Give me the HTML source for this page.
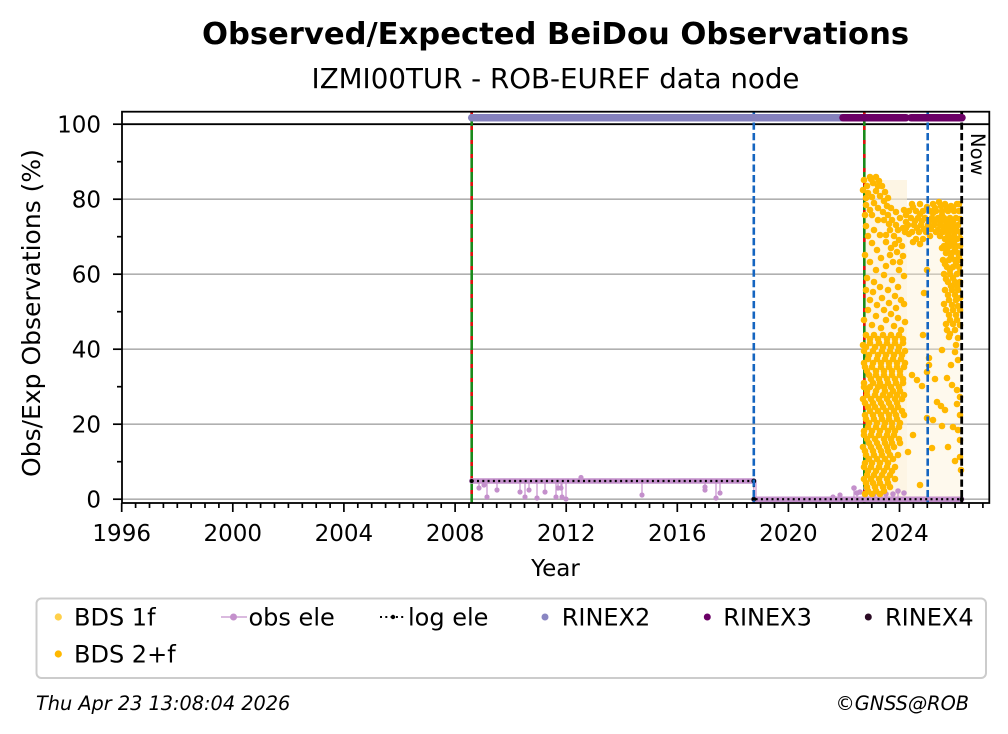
<!DOCTYPE html>
<html><head><meta charset="utf-8"><style>
html,body{margin:0;padding:0;background:#fff;}
svg{display:block;}
text{font-family:"DejaVu Sans","Liberation Sans",sans-serif;fill:#000;}
</style></head><body>
<svg width="1008" height="734" viewBox="0 0 1008 734" xmlns="http://www.w3.org/2000/svg">
<defs><clipPath id="ax"><rect x="122" y="112" width="867.3" height="391"/></clipPath></defs>
<rect width="1008" height="734" fill="#fff"/>
<!-- titles -->
<text x="555.5" y="44" text-anchor="middle" font-size="30.6" font-weight="bold">Observed/Expected BeiDou Observations</text>
<text x="555.5" y="88" text-anchor="middle" font-size="27.7">IZMI00TUR - ROB-EUREF data node</text>

<g clip-path="url(#ax)">
<!-- grid -->
<g stroke="#b0b0b0" stroke-width="1.6">
<line x1="122" x2="989" y1="499.2" y2="499.2"/>
<line x1="122" x2="989" y1="424.2" y2="424.2"/>
<line x1="122" x2="989" y1="349.2" y2="349.2"/>
<line x1="122" x2="989" y1="274.2" y2="274.2"/>
<line x1="122" x2="989" y1="199.2" y2="199.2"/>
</g>
<line x1="122" x2="989" y1="124.2" y2="124.2" stroke="#000" stroke-width="1.8"/>

<!-- yellow stems tint -->
<rect x="864" y="180" width="43" height="319" fill="#fcefd2" opacity="0.6"/>
<rect x="907" y="205" width="55" height="294" fill="#fcefd2" opacity="0.4"/>

<!-- green/red lines -->
<line x1="471.7" x2="471.7" y1="112" y2="503" stroke="#1a8a1a" stroke-width="2.6"/>
<line x1="471.7" x2="471.7" y1="112" y2="503" stroke="#e01010" stroke-width="2.6" stroke-dasharray="4,10"/>
<line x1="864.3" x2="864.3" y1="112" y2="503" stroke="#1a8a1a" stroke-width="2.6"/>
<line x1="864.3" x2="864.3" y1="112" y2="503" stroke="#e01010" stroke-width="2.6" stroke-dasharray="4,10"/>

<!-- obs ele -->
<g stroke="#c490cc" stroke-width="1.2">
<line x1="479" y1="481" x2="479" y2="488"/><line x1="487" y1="481" x2="487" y2="497"/>
<line x1="497" y1="481" x2="497" y2="490"/><line x1="520" y1="481" x2="520" y2="492"/>
<line x1="525" y1="481" x2="525" y2="497"/><line x1="529" y1="481" x2="529" y2="490"/>
<line x1="537" y1="481" x2="537" y2="498"/><line x1="545" y1="481" x2="545" y2="492"/>
<line x1="556" y1="481" x2="556" y2="497"/><line x1="558" y1="481" x2="558" y2="488"/>
<line x1="561" y1="481" x2="561" y2="488"/><line x1="562" y1="481" x2="562" y2="497"/>
<line x1="566" y1="481" x2="566" y2="499"/><line x1="642" y1="481" x2="642" y2="495"/>
<line x1="705" y1="481" x2="705" y2="490"/><line x1="716" y1="481" x2="716" y2="498"/>
<line x1="720" y1="481" x2="720" y2="493"/><line x1="753.8" y1="481" x2="753.8" y2="499.2"/>
<line x1="756" y1="481" x2="756" y2="499.2"/>
<line x1="854" y1="499" x2="854" y2="488"/><line x1="857" y1="499" x2="857" y2="493"/>
<line x1="866" y1="499" x2="866" y2="488"/><line x1="898" y1="499" x2="898" y2="491"/>
</g>
<line x1="471.7" y1="481" x2="753.8" y2="481" stroke="#c490cc" stroke-width="5.5" stroke-linecap="round"/>
<line x1="753.8" y1="499.2" x2="961.7" y2="499.2" stroke="#c490cc" stroke-width="5.5" stroke-linecap="round"/>
<g fill="#c490cc">
<circle cx="479" cy="488" r="2.6"/><circle cx="484" cy="485" r="2.6"/><circle cx="487" cy="497" r="2.6"/>
<circle cx="497" cy="490" r="2.6"/><circle cx="520" cy="492" r="2.6"/><circle cx="525" cy="497" r="2.6"/>
<circle cx="529" cy="490" r="2.6"/><circle cx="537" cy="498" r="2.6"/><circle cx="545" cy="492" r="2.6"/>
<circle cx="556" cy="497" r="2.6"/><circle cx="558" cy="488" r="2.6"/><circle cx="561" cy="488" r="2.6"/>
<circle cx="562" cy="497" r="2.6"/><circle cx="566" cy="499" r="2.6"/><circle cx="581" cy="477.5" r="2.6"/>
<circle cx="642" cy="495" r="2.6"/><circle cx="705" cy="490" r="2.6"/><circle cx="705" cy="487" r="2.6"/>
<circle cx="716" cy="498" r="2.6"/><circle cx="720" cy="493" r="2.6"/>
<circle cx="833" cy="497" r="2.6"/><circle cx="840" cy="495" r="2.6"/>
<circle cx="854" cy="488" r="2.8"/><circle cx="857" cy="493" r="2.8"/><circle cx="860" cy="492" r="2.8"/>
<circle cx="866" cy="488" r="2.8"/><circle cx="868" cy="492" r="2.8"/><circle cx="874" cy="494" r="2.8"/>
<circle cx="880" cy="494" r="2.8"/><circle cx="886" cy="494" r="2.8"/><circle cx="893" cy="494" r="2.8"/>
<circle cx="898" cy="491" r="2.8"/><circle cx="904" cy="493" r="2.8"/>
</g>
<!-- log ele -->
<g stroke="#000" stroke-width="2.2" fill="none" stroke-dasharray="2,3.3">
<path d="M471.7 481 H753.8 V499.2 H961.7"/>
</g>
<circle cx="471.7" cy="481" r="2" fill="#000"/>
<circle cx="753.8" cy="481" r="2.4" fill="#000"/>
<circle cx="753.8" cy="499.2" r="2.4" fill="#000"/>
<circle cx="961.7" cy="499.2" r="2.2" fill="#000"/>

<!-- yellow scatter BDS 2+f -->
<g fill="#ffb800">
<!-- top cluster -->
<circle cx="864" cy="180" r="3.3"/><circle cx="867" cy="186" r="3.3"/><circle cx="870" cy="177" r="3.3"/><circle cx="873" cy="183" r="3.3"/><circle cx="876" cy="177" r="3.3"/><circle cx="879" cy="181" r="3.3"/><circle cx="882" cy="186" r="3.3"/><circle cx="868" cy="193" r="3.3"/><circle cx="872" cy="197" r="3.3"/><circle cx="876" cy="191" r="3.3"/><circle cx="880" cy="196" r="3.3"/><circle cx="884" cy="201" r="3.3"/><circle cx="866" cy="205" r="3.3"/><circle cx="870" cy="210" r="3.3"/><circle cx="865" cy="215" r="3.3"/><circle cx="874" cy="203" r="3.3"/><circle cx="878" cy="208" r="3.3"/><circle cx="883" cy="212" r="3.3"/><circle cx="887" cy="206" r="3.3"/>
<circle cx="863" cy="190" r="3.3"/><circle cx="866" cy="198" r="3.3"/><circle cx="871" cy="179" r="3.3"/><circle cx="878" cy="186" r="3.3"/><circle cx="885" cy="192" r="3.3"/><circle cx="888" cy="198" r="3.3"/><circle cx="872" cy="215" r="3.3"/><circle cx="878" cy="220" r="3.3"/><circle cx="866" cy="226" r="3.3"/><circle cx="874" cy="230" r="3.3"/><circle cx="880" cy="235" r="3.3"/>
<!-- upper A -->
<circle cx="888" cy="215" r="3.3"/><circle cx="892" cy="220" r="3.3"/><circle cx="896" cy="225" r="3.3"/><circle cx="900" cy="218" r="3.3"/><circle cx="903" cy="228" r="3.3"/><circle cx="890" cy="230" r="3.3"/><circle cx="894" cy="236" r="3.3"/><circle cx="899" cy="240" r="3.3"/><circle cx="905" cy="232" r="3.3"/><circle cx="886" cy="242" r="3.3"/><circle cx="891" cy="248" r="3.3"/><circle cx="897" cy="252" r="3.3"/><circle cx="902" cy="246" r="3.3"/><circle cx="868" cy="236" r="3.3"/><circle cx="872" cy="243" r="3.3"/><circle cx="877" cy="250" r="3.3"/><circle cx="865" cy="255" r="3.3"/><circle cx="870" cy="262" r="3.3"/><circle cx="881" cy="258" r="3.3"/><circle cx="886" cy="266" r="3.3"/><circle cx="893" cy="262" r="3.3"/><circle cx="899" cy="270" r="3.3"/><circle cx="904" cy="276" r="3.3"/><circle cx="867" cy="278" r="3.3"/><circle cx="874" cy="282" r="3.3"/><circle cx="880" cy="287" r="3.3"/><circle cx="888" cy="290" r="3.3"/><circle cx="895" cy="296" r="3.3"/><circle cx="901" cy="300" r="3.3"/><circle cx="870" cy="300" r="3.3"/><circle cx="877" cy="305" r="3.3"/><circle cx="884" cy="310" r="3.3"/><circle cx="891" cy="314" r="3.3"/><circle cx="898" cy="318" r="3.3"/><circle cx="905" cy="322" r="3.3"/><circle cx="864" cy="320" r="3.3"/><circle cx="872" cy="325" r="3.3"/><circle cx="881" cy="328" r="3.3"/>
<circle cx="884" cy="220" r="3.3"/><circle cx="889" cy="224" r="3.3"/><circle cx="898" cy="230" r="3.3"/><circle cx="886" cy="235" r="3.3"/><circle cx="895" cy="244" r="3.3"/><circle cx="903" cy="256" r="3.3"/><circle cx="890" cy="255" r="3.3"/><circle cx="900" cy="262" r="3.3"/><circle cx="884" cy="275" r="3.3"/><circle cx="892" cy="280" r="3.3"/><circle cx="898" cy="287" r="3.3"/><circle cx="876" cy="270" r="3.3"/><circle cx="866" cy="290" r="3.3"/><circle cx="873" cy="292" r="3.3"/><circle cx="882" cy="298" r="3.3"/><circle cx="889" cy="303" r="3.3"/><circle cx="896" cy="308" r="3.3"/><circle cx="904" cy="304" r="3.3"/><circle cx="868" cy="310" r="3.3"/><circle cx="876" cy="316" r="3.3"/><circle cx="886" cy="320" r="3.3"/><circle cx="894" cy="326" r="3.3"/><circle cx="901" cy="330" r="3.3"/><circle cx="863" cy="345" r="3.3"/><circle cx="904" cy="210" r="3.3"/><circle cx="906" cy="222" r="3.3"/><circle cx="891" cy="208" r="3.3"/><circle cx="896" cy="212" r="3.3"/>
<!-- lower A dense -->
<circle cx="866" cy="335" r="3.3"/><circle cx="874" cy="335" r="3.3"/><circle cx="883" cy="335" r="3.3"/><circle cx="891" cy="335" r="3.3"/><circle cx="899" cy="335" r="3.3"/>
<circle cx="870" cy="343" r="3.3"/><circle cx="879" cy="343" r="3.3"/><circle cx="887" cy="343" r="3.3"/><circle cx="895" cy="343" r="3.3"/><circle cx="903" cy="343" r="3.3"/>
<circle cx="864" cy="351" r="3.3"/><circle cx="873" cy="351" r="3.3"/><circle cx="882" cy="351" r="3.3"/><circle cx="890" cy="351" r="3.3"/><circle cx="898" cy="351" r="3.3"/><circle cx="905" cy="351" r="3.3"/>
<circle cx="868" cy="359" r="3.3"/><circle cx="877" cy="359" r="3.3"/><circle cx="885" cy="359" r="3.3"/><circle cx="893" cy="359" r="3.3"/><circle cx="901" cy="359" r="3.3"/>
<circle cx="865" cy="367" r="3.3"/><circle cx="872" cy="367" r="3.3"/><circle cx="881" cy="367" r="3.3"/><circle cx="889" cy="367" r="3.3"/><circle cx="897" cy="367" r="3.3"/><circle cx="904" cy="367" r="3.3"/>
<circle cx="869" cy="375" r="3.3"/><circle cx="876" cy="375" r="3.3"/><circle cx="884" cy="375" r="3.3"/><circle cx="892" cy="375" r="3.3"/><circle cx="900" cy="375" r="3.3"/>
<circle cx="864" cy="383" r="3.3"/><circle cx="873" cy="383" r="3.3"/><circle cx="880" cy="383" r="3.3"/><circle cx="888" cy="383" r="3.3"/><circle cx="896" cy="383" r="3.3"/><circle cx="903" cy="383" r="3.3"/>
<circle cx="867" cy="391" r="3.3"/><circle cx="876" cy="391" r="3.3"/><circle cx="885" cy="391" r="3.3"/><circle cx="893" cy="391" r="3.3"/><circle cx="900" cy="391" r="3.3"/>
<circle cx="863" cy="399" r="3.3"/><circle cx="871" cy="399" r="3.3"/><circle cx="879" cy="399" r="3.3"/><circle cx="887" cy="399" r="3.3"/><circle cx="895" cy="399" r="3.3"/><circle cx="902" cy="399" r="3.3"/>
<circle cx="868" cy="407" r="3.3"/><circle cx="875" cy="407" r="3.3"/><circle cx="883" cy="407" r="3.3"/><circle cx="891" cy="407" r="3.3"/><circle cx="898" cy="407" r="3.3"/>
<circle cx="865" cy="415" r="3.3"/><circle cx="873" cy="415" r="3.3"/><circle cx="881" cy="415" r="3.3"/><circle cx="889" cy="415" r="3.3"/><circle cx="896" cy="415" r="3.3"/><circle cx="904" cy="415" r="3.3"/>
<circle cx="869" cy="423" r="3.3"/><circle cx="877" cy="423" r="3.3"/><circle cx="885" cy="423" r="3.3"/><circle cx="892" cy="423" r="3.3"/><circle cx="900" cy="423" r="3.3"/>
<circle cx="864" cy="431" r="3.3"/><circle cx="872" cy="431" r="3.3"/><circle cx="880" cy="431" r="3.3"/><circle cx="888" cy="431" r="3.3"/><circle cx="895" cy="431" r="3.3"/>
<circle cx="867" cy="439" r="3.3"/><circle cx="875" cy="439" r="3.3"/><circle cx="884" cy="439" r="3.3"/><circle cx="891" cy="439" r="3.3"/><circle cx="899" cy="439" r="3.3"/>
<circle cx="863" cy="447" r="3.3"/><circle cx="871" cy="447" r="3.3"/><circle cx="879" cy="447" r="3.3"/><circle cx="887" cy="447" r="3.3"/><circle cx="894" cy="447" r="3.3"/>
<circle cx="866" cy="455" r="3.3"/><circle cx="874" cy="455" r="3.3"/><circle cx="882" cy="455" r="3.3"/><circle cx="890" cy="455" r="3.3"/><circle cx="898" cy="455" r="3.3"/>
<circle cx="865" cy="463" r="3.3"/><circle cx="872" cy="463" r="3.3"/><circle cx="880" cy="463" r="3.3"/><circle cx="888" cy="463" r="3.3"/>
<circle cx="868" cy="471" r="3.3"/><circle cx="876" cy="471" r="3.3"/><circle cx="884" cy="471" r="3.3"/><circle cx="892" cy="471" r="3.3"/>
<circle cx="864" cy="479" r="3.3"/><circle cx="871" cy="479" r="3.3"/><circle cx="879" cy="479" r="3.3"/><circle cx="887" cy="479" r="3.3"/><circle cx="895" cy="479" r="3.3"/>
<circle cx="867" cy="487" r="3.3"/><circle cx="875" cy="487" r="3.3"/><circle cx="883" cy="487" r="3.3"/><circle cx="890" cy="487" r="3.3"/>
<circle cx="865" cy="494" r="3.3"/><circle cx="872" cy="494" r="3.3"/><circle cx="880" cy="494" r="3.3"/>
<!-- lower A offset set -->
<circle cx="870" cy="339" r="3.3"/><circle cx="878" cy="339" r="3.3"/><circle cx="887" cy="339" r="3.3"/><circle cx="895" cy="339" r="3.3"/><circle cx="903" cy="339" r="3.3"/>
<circle cx="866" cy="347" r="3.3"/><circle cx="875" cy="347" r="3.3"/><circle cx="883" cy="347" r="3.3"/><circle cx="891" cy="347" r="3.3"/><circle cx="899" cy="347" r="3.3"/>
<circle cx="869" cy="355" r="3.3"/><circle cx="878" cy="355" r="3.3"/><circle cx="886" cy="355" r="3.3"/><circle cx="894" cy="355" r="3.3"/><circle cx="902" cy="355" r="3.3"/>
<circle cx="864" cy="363" r="3.3"/><circle cx="873" cy="363" r="3.3"/><circle cx="881" cy="363" r="3.3"/><circle cx="889" cy="363" r="3.3"/><circle cx="897" cy="363" r="3.3"/><circle cx="905" cy="363" r="3.3"/>
<circle cx="867" cy="371" r="3.3"/><circle cx="876" cy="371" r="3.3"/><circle cx="884" cy="371" r="3.3"/><circle cx="892" cy="371" r="3.3"/><circle cx="900" cy="371" r="3.3"/>
<circle cx="871" cy="379" r="3.3"/><circle cx="879" cy="379" r="3.3"/><circle cx="887" cy="379" r="3.3"/><circle cx="895" cy="379" r="3.3"/><circle cx="903" cy="379" r="3.3"/>
<circle cx="864" cy="387" r="3.3"/><circle cx="870" cy="387" r="3.3"/><circle cx="878" cy="387" r="3.3"/><circle cx="884" cy="387" r="3.3"/><circle cx="891" cy="387" r="3.3"/><circle cx="899" cy="387" r="3.3"/>
<circle cx="867" cy="395" r="3.3"/><circle cx="875" cy="395" r="3.3"/><circle cx="883" cy="395" r="3.3"/><circle cx="890" cy="395" r="3.3"/><circle cx="897" cy="395" r="3.3"/><circle cx="904" cy="395" r="3.3"/>
<circle cx="865" cy="403" r="3.3"/><circle cx="873" cy="403" r="3.3"/><circle cx="881" cy="403" r="3.3"/><circle cx="889" cy="403" r="3.3"/><circle cx="897" cy="403" r="3.3"/>
<circle cx="870" cy="411" r="3.3"/><circle cx="878" cy="411" r="3.3"/><circle cx="886" cy="411" r="3.3"/><circle cx="894" cy="411" r="3.3"/><circle cx="902" cy="411" r="3.3"/>
<circle cx="866" cy="419" r="3.3"/><circle cx="874" cy="419" r="3.3"/><circle cx="882" cy="419" r="3.3"/><circle cx="889" cy="419" r="3.3"/><circle cx="897" cy="419" r="3.3"/>
<circle cx="868" cy="427" r="3.3"/><circle cx="876" cy="427" r="3.3"/><circle cx="884" cy="427" r="3.3"/><circle cx="892" cy="427" r="3.3"/><circle cx="899" cy="427" r="3.3"/>
<circle cx="864" cy="435" r="3.3"/><circle cx="871" cy="435" r="3.3"/><circle cx="879" cy="435" r="3.3"/><circle cx="887" cy="435" r="3.3"/><circle cx="894" cy="435" r="3.3"/>
<circle cx="869" cy="443" r="3.3"/><circle cx="877" cy="443" r="3.3"/><circle cx="885" cy="443" r="3.3"/><circle cx="892" cy="443" r="3.3"/><circle cx="900" cy="443" r="3.3"/>
<circle cx="865" cy="451" r="3.3"/><circle cx="873" cy="451" r="3.3"/><circle cx="881" cy="451" r="3.3"/><circle cx="888" cy="451" r="3.3"/>
<circle cx="869" cy="459" r="3.3"/><circle cx="877" cy="459" r="3.3"/><circle cx="885" cy="459" r="3.3"/><circle cx="893" cy="459" r="3.3"/>
<circle cx="864" cy="467" r="3.3"/><circle cx="871" cy="467" r="3.3"/><circle cx="879" cy="467" r="3.3"/><circle cx="887" cy="467" r="3.3"/><circle cx="895" cy="467" r="3.3"/>
<circle cx="867" cy="475" r="3.3"/><circle cx="874" cy="475" r="3.3"/><circle cx="882" cy="475" r="3.3"/><circle cx="890" cy="475" r="3.3"/>
<circle cx="866" cy="483" r="3.3"/><circle cx="873" cy="483" r="3.3"/><circle cx="880" cy="483" r="3.3"/><circle cx="888" cy="483" r="3.3"/>
<circle cx="868" cy="491" r="3.3"/><circle cx="876" cy="491" r="3.3"/><circle cx="884" cy="491" r="3.3"/>
<!-- band B-D -->
<circle cx="912" cy="204" r="3.3"/><circle cx="920" cy="204" r="3.3"/><circle cx="933" cy="204" r="3.3"/><circle cx="939" cy="202" r="3.3"/><circle cx="945" cy="204" r="3.3"/><circle cx="951" cy="206" r="3.3"/><circle cx="957" cy="204" r="3.3"/>
<circle cx="909" cy="211" r="3.3"/><circle cx="916" cy="211" r="3.3"/><circle cx="923" cy="211" r="3.3"/><circle cx="930" cy="211" r="3.3"/><circle cx="936" cy="211" r="3.3"/><circle cx="942" cy="211" r="3.3"/><circle cx="948" cy="211" r="3.3"/><circle cx="954" cy="211" r="3.3"/><circle cx="959" cy="211" r="3.3"/>
<circle cx="911" cy="218" r="3.3"/><circle cx="918" cy="218" r="3.3"/><circle cx="925" cy="218" r="3.3"/><circle cx="932" cy="218" r="3.3"/><circle cx="938" cy="218" r="3.3"/><circle cx="944" cy="218" r="3.3"/><circle cx="950" cy="218" r="3.3"/><circle cx="956" cy="218" r="3.3"/>
<circle cx="908" cy="225" r="3.3"/><circle cx="914" cy="225" r="3.3"/><circle cx="921" cy="225" r="3.3"/><circle cx="928" cy="225" r="3.3"/><circle cx="934" cy="225" r="3.3"/><circle cx="940" cy="225" r="3.3"/><circle cx="946" cy="225" r="3.3"/><circle cx="952" cy="225" r="3.3"/><circle cx="958" cy="225" r="3.3"/>
<circle cx="912" cy="232" r="3.3"/><circle cx="919" cy="232" r="3.3"/><circle cx="926" cy="232" r="3.3"/><circle cx="936" cy="232" r="3.3"/><circle cx="943" cy="232" r="3.3"/><circle cx="949" cy="232" r="3.3"/><circle cx="955" cy="232" r="3.3"/><circle cx="960" cy="232" r="3.3"/>
<circle cx="916" cy="239" r="3.3"/><circle cx="923" cy="239" r="3.3"/><circle cx="945" cy="239" r="3.3"/><circle cx="951" cy="239" r="3.3"/><circle cx="957" cy="239" r="3.3"/>
<circle cx="944" cy="246" r="3.3"/><circle cx="950" cy="246" r="3.3"/><circle cx="956" cy="246" r="3.3"/><circle cx="960" cy="246" r="3.3"/>
<circle cx="946" cy="253" r="3.3"/><circle cx="952" cy="253" r="3.3"/><circle cx="958" cy="253" r="3.3"/>
<circle cx="943" cy="260" r="3.3"/><circle cx="949" cy="260" r="3.3"/><circle cx="955" cy="260" r="3.3"/><circle cx="960" cy="260" r="3.3"/>
<circle cx="947" cy="267" r="3.3"/><circle cx="953" cy="267" r="3.3"/><circle cx="959" cy="267" r="3.3"/>
<circle cx="944" cy="274" r="3.3"/><circle cx="950" cy="274" r="3.3"/><circle cx="957" cy="274" r="3.3"/>
<circle cx="948" cy="282" r="3.3"/><circle cx="955" cy="282" r="3.3"/><circle cx="960" cy="282" r="3.3"/>
<circle cx="945" cy="290" r="3.3"/><circle cx="952" cy="290" r="3.3"/><circle cx="958" cy="290" r="3.3"/>
<circle cx="949" cy="300" r="3.3"/><circle cx="956" cy="300" r="3.3"/>
<circle cx="946" cy="310" r="3.3"/><circle cx="953" cy="310" r="3.3"/><circle cx="960" cy="310" r="3.3"/>
<circle cx="950" cy="320" r="3.3"/><circle cx="957" cy="320" r="3.3"/>
<circle cx="947" cy="330" r="3.3"/><circle cx="955" cy="330" r="3.3"/>
<circle cx="927" cy="270" r="3.3"/><circle cx="924" cy="293" r="3.3"/>
<circle cx="906" cy="215" r="3.3"/><circle cx="906" cy="228" r="3.3"/><circle cx="913" cy="207" r="3.3"/><circle cx="920" cy="214" r="3.3"/><circle cx="927" cy="207" r="3.3"/><circle cx="935" cy="208" r="3.3"/><circle cx="941" cy="206" r="3.3"/><circle cx="947" cy="208" r="3.3"/><circle cx="953" cy="208" r="3.3"/><circle cx="959" cy="204" r="3.3"/><circle cx="915" cy="221" r="3.3"/><circle cx="922" cy="221" r="3.3"/><circle cx="929" cy="221" r="3.3"/><circle cx="935" cy="221" r="3.3"/><circle cx="941" cy="221" r="3.3"/><circle cx="947" cy="222" r="3.3"/><circle cx="953" cy="221" r="3.3"/><circle cx="960" cy="219" r="3.3"/><circle cx="917" cy="228" r="3.3"/><circle cx="924" cy="229" r="3.3"/><circle cx="931" cy="229" r="3.3"/><circle cx="938" cy="230" r="3.3"/><circle cx="944" cy="229" r="3.3"/><circle cx="950" cy="229" r="3.3"/><circle cx="956" cy="229" r="3.3"/><circle cx="909" cy="234" r="3.3"/><circle cx="930" cy="236" r="3.3"/><circle cx="940" cy="236" r="3.3"/><circle cx="948" cy="236" r="3.3"/><circle cx="954" cy="236" r="3.3"/><circle cx="960" cy="238" r="3.3"/><circle cx="913" cy="242" r="3.3"/><circle cx="920" cy="244" r="3.3"/><circle cx="948" cy="243" r="3.3"/><circle cx="954" cy="243" r="3.3"/><circle cx="942" cy="248" r="3.3"/><circle cx="947" cy="250" r="3.3"/><circle cx="955" cy="250" r="3.3"/><circle cx="959" cy="256" r="3.3"/><circle cx="951" cy="257" r="3.3"/><circle cx="945" cy="264" r="3.3"/><circle cx="956" cy="264" r="3.3"/><circle cx="950" cy="270" r="3.3"/><circle cx="960" cy="272" r="3.3"/><circle cx="946" cy="279" r="3.3"/><circle cx="953" cy="278" r="3.3"/><circle cx="951" cy="286" r="3.3"/><circle cx="957" cy="286" r="3.3"/><circle cx="948" cy="295" r="3.3"/><circle cx="955" cy="295" r="3.3"/><circle cx="960" cy="298" r="3.3"/><circle cx="944" cy="304" r="3.3"/><circle cx="952" cy="305" r="3.3"/><circle cx="958" cy="306" r="3.3"/><circle cx="949" cy="315" r="3.3"/><circle cx="956" cy="315" r="3.3"/><circle cx="946" cy="324" r="3.3"/><circle cx="953" cy="324" r="3.3"/><circle cx="960" cy="325" r="3.3"/><circle cx="950" cy="334" r="3.3"/><circle cx="958" cy="338" r="3.3"/><circle cx="942" cy="215" r="3.3"/><circle cx="933" cy="213" r="3.3"/>
<!-- lower right scatter -->
<circle cx="923" cy="335" r="3.3"/><circle cx="942" cy="350" r="3.3"/><circle cx="912" cy="375" r="3.3"/><circle cx="917" cy="380" r="3.3"/><circle cx="922" cy="386" r="3.3"/><circle cx="927" cy="372" r="3.3"/><circle cx="929" cy="358" r="3.3"/><circle cx="929" cy="365" r="3.3"/><circle cx="935" cy="379" r="3.3"/><circle cx="947" cy="378" r="3.3"/><circle cx="952" cy="385" r="3.3"/><circle cx="957" cy="390" r="3.3"/><circle cx="960" cy="397" r="3.3"/><circle cx="937" cy="402" r="3.3"/><circle cx="941" cy="406" r="3.3"/><circle cx="945" cy="410" r="3.3"/><circle cx="927" cy="418" r="3.3"/><circle cx="933" cy="420" r="3.3"/><circle cx="942" cy="426" r="3.3"/><circle cx="953" cy="427" r="3.3"/><circle cx="957" cy="404" r="3.3"/><circle cx="960" cy="415" r="3.3"/><circle cx="958" cy="430" r="3.3"/><circle cx="960" cy="440" r="3.3"/><circle cx="948" cy="447" r="3.3"/><circle cx="932" cy="448" r="3.3"/><circle cx="920" cy="485" r="3.3"/><circle cx="960" cy="457" r="3.3"/><circle cx="913" cy="435" r="3.3"/><circle cx="956" cy="345" r="3.3"/><circle cx="958" cy="360" r="3.3"/><circle cx="951" cy="365" r="3.3"/><circle cx="961" cy="470" r="3.3"/><circle cx="955" cy="461" r="3.3"/><circle cx="908" cy="452" r="3.3"/><circle cx="949" cy="337" r="3.3"/><circle cx="955" cy="352" r="3.3"/>
</g>

<!-- blue / now lines -->
<line x1="753.8" x2="753.8" y1="112" y2="503" stroke="#1565c0" stroke-width="2.6" stroke-dasharray="7.3,3.2"/>
<line x1="927.7" x2="927.7" y1="112" y2="503" stroke="#1565c0" stroke-width="2.6" stroke-dasharray="7.3,3.2"/>
<line x1="961.7" x2="961.7" y1="112" y2="503" stroke="#000" stroke-width="2.8" stroke-dasharray="7.3,3.2"/>

<!-- RINEX bands -->
<line x1="471.7" y1="117.7" x2="860" y2="117.7" stroke="#8581bd" stroke-width="7.5" stroke-linecap="round"/>
<line x1="843" y1="117.7" x2="906" y2="117.7" stroke="#6b0066" stroke-width="7.5" stroke-linecap="round"/>
<line x1="911" y1="117.7" x2="962" y2="117.7" stroke="#6b0066" stroke-width="7.5" stroke-linecap="round"/>
</g>

<text transform="translate(971,133) rotate(90)" font-size="19.5">Now</text>

<!-- spines -->
<rect x="122" y="111.7" width="867.3" height="391.3" fill="none" stroke="#000" stroke-width="1.8"/>

<!-- y ticks -->
<g stroke="#000" stroke-width="1.7">
<line x1="113" x2="122" y1="499.2" y2="499.2"/><line x1="113" x2="122" y1="424.2" y2="424.2"/>
<line x1="113" x2="122" y1="349.2" y2="349.2"/><line x1="113" x2="122" y1="274.2" y2="274.2"/>
<line x1="113" x2="122" y1="199.2" y2="199.2"/><line x1="113" x2="122" y1="124.2" y2="124.2"/>
<line x1="117" x2="122" y1="461.7" y2="461.7"/><line x1="117" x2="122" y1="386.7" y2="386.7"/>
<line x1="117" x2="122" y1="311.7" y2="311.7"/><line x1="117" x2="122" y1="236.7" y2="236.7"/>
<line x1="117" x2="122" y1="161.7" y2="161.7"/>
</g>
<g font-size="23" text-anchor="end">
<text x="101" y="507.5">0</text><text x="101" y="432.5">20</text><text x="101" y="357.5">40</text>
<text x="101" y="282.5">60</text><text x="101" y="207.5">80</text><text x="101" y="132.5">100</text>
</g>

<!-- x ticks -->
<path stroke="#000" stroke-width="1.7" fill="none" d="M121.7 503V512M232.8 503V512M343.9 503V512M455.1 503V512M566.2 503V512M677.3 503V512M788.4 503V512M899.5 503V512
M135.6 503V508M149.5 503V508M163.4 503V508M177.3 503V508M191.1 503V508M205 503V508M218.9 503V508
M246.7 503V508M260.6 503V508M274.5 503V508M288.4 503V508M302.3 503V508M316.2 503V508M330.1 503V508
M357.8 503V508M371.7 503V508M385.6 503V508M399.5 503V508M413.4 503V508M427.3 503V508M441.2 503V508
M469 503V508M482.8 503V508M496.7 503V508M510.6 503V508M524.5 503V508M538.4 503V508M552.3 503V508
M580.1 503V508M594 503V508M607.9 503V508M621.7 503V508M635.6 503V508M649.5 503V508M663.4 503V508
M691.2 503V508M705.1 503V508M719 503V508M732.9 503V508M746.8 503V508M760.6 503V508M774.5 503V508
M802.3 503V508M816.2 503V508M830.1 503V508M844 503V508M857.9 503V508M871.8 503V508M885.7 503V508
M913.4 503V508M927.3 503V508M941.2 503V508M955.1 503V508M969 503V508M982.9 503V508"/>
<g font-size="23" text-anchor="middle">
<text x="121.7" y="541">1996</text><text x="232.8" y="541">2000</text><text x="343.9" y="541">2004</text>
<text x="455.1" y="541">2008</text><text x="566.2" y="541">2012</text><text x="677.3" y="541">2016</text>
<text x="788.4" y="541">2020</text><text x="899.5" y="541">2024</text>
</g>
<text x="555.5" y="576" font-size="23" text-anchor="middle">Year</text>
<text transform="translate(40,313) rotate(-90)" font-size="25" text-anchor="middle">Obs/Exp Observations (%)</text>

<!-- legend -->
<rect x="36.5" y="598.5" width="949.5" height="79.5" rx="5" ry="5" fill="#fff" stroke="#cccccc" stroke-width="2"/>
<g font-size="24">
<circle cx="58.3" cy="617" r="3.6" fill="#ffd04a"/>
<text x="74" y="625.7">BDS 1f</text>
<circle cx="58.3" cy="654" r="3.6" fill="#ffb800"/>
<text x="74" y="662.7">BDS 2+f</text>
<line x1="221" y1="617" x2="247" y2="617" stroke="#c490cc" stroke-width="1.2"/>
<circle cx="233.5" cy="617" r="3.5" fill="#c490cc"/>
<text x="248.5" y="625.7">obs ele</text>
<line x1="380" y1="617" x2="406" y2="617" stroke="#000" stroke-width="2" stroke-dasharray="2,3.3"/>
<circle cx="393" cy="617" r="2.2" fill="#000"/>
<text x="408" y="625.7">log ele</text>
<circle cx="545" cy="617" r="3.5" fill="#8a86c2"/>
<text x="561.7" y="625.7">RINEX2</text>
<circle cx="707.3" cy="617" r="3.5" fill="#6b0066"/>
<text x="723.3" y="625.7">RINEX3</text>
<circle cx="868.3" cy="617" r="3.5" fill="#2b0b24"/>
<text x="885" y="625.7">RINEX4</text>
</g>

<!-- footer -->
<text x="36" y="710" font-size="19.3" font-style="italic">Thu Apr 23 13:08:04 2026</text>
<text x="969" y="710" font-size="19.3" font-style="italic" text-anchor="end">©GNSS@ROB</text>
</svg>
</body></html>
